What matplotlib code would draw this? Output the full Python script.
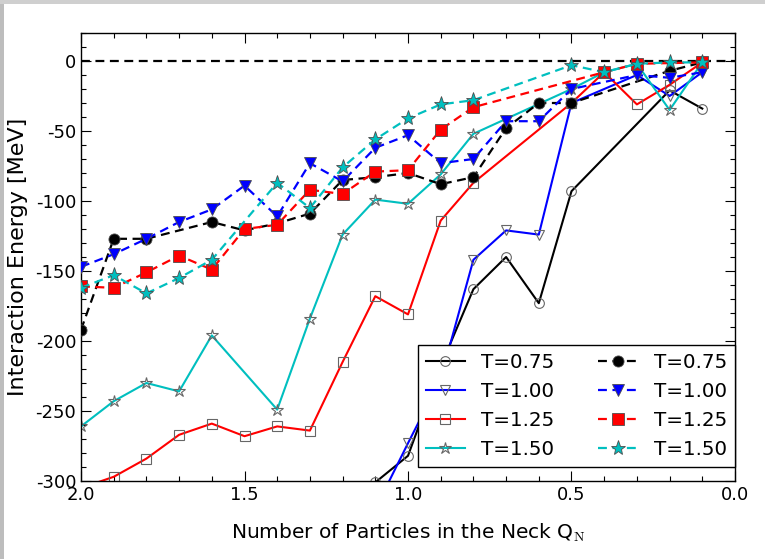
import matplotlib
matplotlib.use("Agg")
import matplotlib.pyplot as plt
from matplotlib.patches import Rectangle
from matplotlib.ticker import MultipleLocator

plt.rcParams['font.family'] = ['DejaVu Sans']
plt.rcParams['axes.unicode_minus'] = False
plt.rcParams['mathtext.fontset'] = 'cm'

# neck particle number
qn = [2.0, 1.9, 1.8, 1.7, 1.6, 1.5, 1.4, 1.3, 1.2, 1.1,
      1.0, 0.9, 0.8, 0.7, 0.6, 0.5, 0.4, 0.3, 0.2, 0.1]

# interaction energy [MeV], None = no point
e_a_075 = [None, None, None, None, None, None, None, None, None, -301,
           -282, -218, -163, -140, -173, -93, None, None, -21, -34]
e_a_100 = [None, None, None, None, None, None, None, None, None, -320,
           -273, -227, -142, -121, -124, -30, None, -10, -25, -8]
e_a_125 = [-305, -297, -284, -267, -259, -268, -261, -264, -215, -168,
           -181, -114, -87, None, None, -30, -8, -31, -17, -1]
e_a_150 = [-261, -243, -230, -236, -196, None, -249, -184, -124, -99,
           -102, -81, -52, None, None, -20, -8, -2, -35, -1]

e_b_075 = [-192, -127, -127, None, -115, -121, -116, -109, -85, -83,
           -80, -88, -83, -48, -30, -30, None, None, -7, -1]
e_b_100 = [-147, -138, -127, -115, -106, -89, -111, -73, -86, -62,
           -53, -73, -70, -43, -43, -20, None, -10, -12, -8]
e_b_125 = [-161, -162, -151, -139, -149, -120, -117, -92, -95, -79,
           -78, -49, -33, None, None, None, -8, -2, None, -1]
e_b_150 = [-162, -153, -166, -155, -142, None, -87, -105, -76, -56,
           -41, -31, -28, None, None, -3, -8, -2, -1, -1]

labels = ['T=0.75', 'T=1.00', 'T=1.25', 'T=1.50']
colors = ['k', 'b', 'r', '#00bfbf']
markers = ['o', 'v', 's', '*']


def pts(vals):
    xs = [x for x, v in zip(qn, vals) if v is not None]
    ys = [v for v in vals if v is not None]
    return xs, ys


fig = plt.figure(figsize=(7.65, 5.59), dpi=100)
ax = fig.add_axes([81/765, 1 - 481/559, 654/765, 448/559])

ax.axhline(0, color='k', lw=1.6, dashes=(4, 2.5), zorder=1)

hs = []
for vals, c, m, lab in zip([e_a_075, e_a_100, e_a_125, e_a_150], colors, markers, labels):
    x, y = pts(vals)
    ms = 9 if m == '*' else 7
    h, = ax.plot(x, y, color=c, lw=1.5, marker=m, ms=ms, mfc='none',
                 mec='0.4', mew=0.8, label=lab, zorder=2)
    hs.append(h)
for vals, c, m, lab in zip([e_b_075, e_b_100, e_b_125, e_b_150], colors, markers, labels):
    x, y = pts(vals)
    ms = 11 if m == '*' else 8
    h, = ax.plot(x, y, color=c, lw=1.6, dashes=(4, 2.5), marker=m, ms=ms,
                 mfc=c, mec='0.3', mew=0.6, label=lab, zorder=3)
    hs.append(h)

ax.set_xlim(2.0, 0.0)
ax.set_ylim(-300, 20)
ax.xaxis.set_major_locator(MultipleLocator(0.5))
ax.xaxis.set_minor_locator(MultipleLocator(0.1))
ax.yaxis.set_major_locator(MultipleLocator(50))
ax.yaxis.set_minor_locator(MultipleLocator(10))
ax.tick_params(which='both', direction='in', top=True, right=True, labelsize=13)
ax.tick_params(which='major', length=7, width=0.8)
ax.tick_params(which='minor', length=3.5, width=0.8)
for s in ax.spines.values():
    s.set_linewidth(1.0)

ax.set_xlabel(r'Number of Particles in the Neck Q$_\mathrm{N}$', fontsize=14.5, labelpad=13)
ax.set_ylabel('Interaction Energy [MeV]', fontsize=16, labelpad=5)

leg = ax.legend(handles=hs, ncol=2, loc='lower right', bbox_to_anchor=(1.0, 14/448),
                borderaxespad=0, numpoints=1, fontsize=14.3, fancybox=False,
                framealpha=1, edgecolor='k', handlelength=2, columnspacing=2.2,
                labelspacing=0.5)
leg.get_frame().set_linewidth(1.0)

# grey strips along the top and left edges
fig.add_artist(Rectangle((0, 0), 4/765, 1, transform=fig.transFigure,
                         color='#bdbdbd', lw=0))
fig.add_artist(Rectangle((0, 1 - 4/559), 1, 4/559, transform=fig.transFigure,
                         color='#cfcfcf', lw=0))

fig.savefig('out.png', dpi=100)
